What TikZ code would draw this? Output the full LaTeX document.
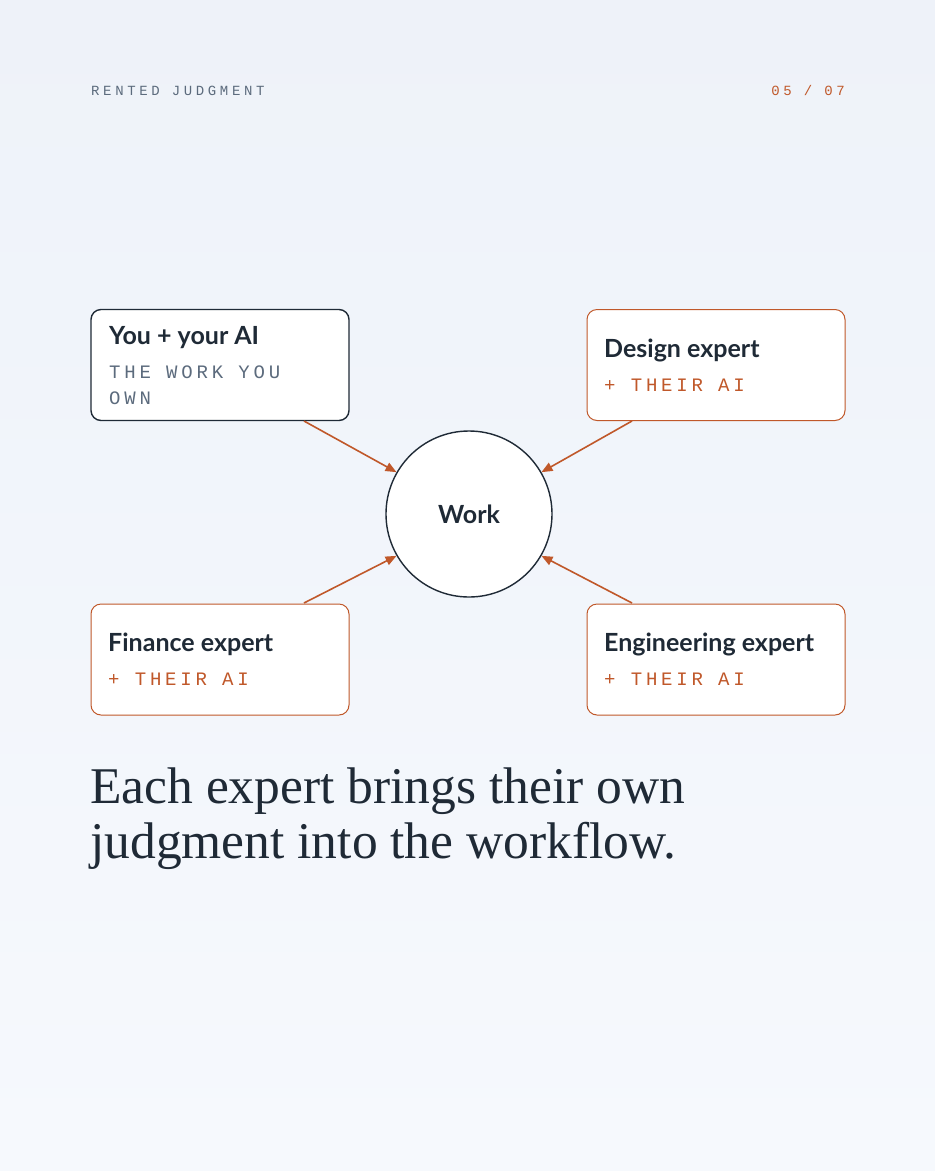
\documentclass[tikz,border=0pt]{standalone}
\usepackage{fontspec}
\setmainfont{Liberation Serif}
\setsansfont{Lato}
\setmonofont{Liberation Mono}[LetterSpace=20]
\newfontfamily\labelmono{Liberation Mono}[LetterSpace=26]
\usetikzlibrary{arrows.meta}
\definecolor{ink}{HTML}{1F2A36}
\definecolor{rust}{HTML}{C0582A}
\definecolor{slate}{HTML}{5C6B7D}
\definecolor{bgtop}{HTML}{EEF2F9}
\definecolor{bgbot}{HTML}{F6F9FD}
\begin{document}
\begin{tikzpicture}[x=1pt, y=-1pt,
    box/.style = {draw=rust, line width=1pt, rounded corners=10pt, fill=white,
                  minimum width=258pt, minimum height=111pt},
    title/.style = {anchor=base west, inner sep=0pt, text=ink,
                    font=\sffamily\bfseries\fontsize{25}{29}\selectfont},
    sub/.style = {anchor=base west, inner sep=0pt, text=rust,
                  font=\ttfamily\fontsize{19}{27}\selectfont},
    feed/.style = {draw=rust, line width=1.6pt, -{Triangle[length=11pt, width=9pt]}}]
    \shade[top color=bgtop, bottom color=bgbot] (0,0) rectangle (935,1171);
    \useasboundingbox (0,0) rectangle (935,1171);

    \node (tag) at (91, 95) [anchor=base west, inner sep=0pt, text=slate,
        font=\labelmono\fontsize{14}{16}\selectfont] {RENTED JUDGMENT};
    \node (page) at (845, 95) [anchor=base east, inner sep=0pt, text=rust,
        font=\labelmono\fontsize{14}{16}\selectfont] {05 / 07};

    % the boxes
    \node (you) at (220, 365) [box, draw=ink, line width=1.4pt] {};
    \node (design) at (716, 365) [box] {};
    \node (finance) at (220, 659.5) [box] {};
    \node (eng) at (716, 659.5) [box] {};

    \node (youT) at (109, 344) [title] {You + your AI};
    \node (youS) at (109, 378) [sub, text=slate] {THE WORK YOU};
    \node (youS2) at (109, 404) [sub, text=slate] {OWN};
    \node (designT) at (604, 357) [title] {Design expert};
    \node (designS) at (604, 391) [sub] {+ THEIR AI};
    \node (financeT) at (108, 651) [title] {Finance expert};
    \node (financeS) at (108, 685) [sub] {+ THEIR AI};
    \node (engT) at (604, 651) [title] {Engineering expert};
    \node (engS) at (604, 685) [sub] {+ THEIR AI};

    \node (work) at (469, 514) [circle, draw=ink, line width=1.4pt, fill=white,
        minimum size=166pt, inner sep=0pt, text=ink,
        font=\sffamily\bfseries\fontsize{25}{29}\selectfont] {Work};

    \coordinate (a1) at (304, 421);
    \coordinate (a2) at (632, 421);
    \coordinate (a3) at (304, 603);
    \coordinate (a4) at (632, 603);
    \draw[feed] (a1) -- (work.150);
    \draw[feed] (a2) -- (work.30);
    \draw[feed] (a3) -- (work.210);
    \draw[feed] (a4) -- (work.-30);

    \node (claim) at (90, 803) [anchor=base west, inner sep=0pt, text=ink,
        font=\rmfamily\fontsize{51.5}{55}\selectfont] {Each expert brings their own};
    \node (claim2) at (90, 858) [anchor=base west, inner sep=0pt, text=ink,
        font=\rmfamily\fontsize{51.5}{55}\selectfont] {judgment into the workflow.};
\end{tikzpicture}
\end{document}
